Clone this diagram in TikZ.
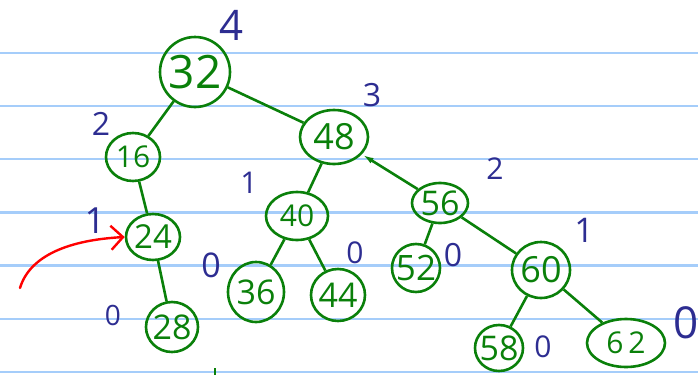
\documentclass[tikz,border=0pt]{standalone}
\usepackage{fontspec}
\setmainfont{Open Sans}
\usetikzlibrary{arrows.meta,shapes.geometric}
\definecolor{ink}{RGB}{10,128,10}
\definecolor{pen}{RGB}{45,45,145}
\definecolor{rule}{RGB}{165,205,250}
\newcommand\fsz[1]{\fontsize{#1}{#1}\selectfont}
\tikzset{
  ell/.style={draw=ink, line width=2.6pt, ellipse, inner sep=0pt},
  num/.style={text=ink, inner sep=0pt, font=\fsz{#1}},
  lab/.style={text=pen, inner sep=0pt, font=\fsz{#1}},
  edge/.style={draw=ink, line width=2.6pt},
  ruleline/.style={draw=rule, line width=2.5pt}
}
\begin{document}
\begin{tikzpicture}[x=1pt,y=-1pt]
\useasboundingbox (0,0) rectangle (698,375);
% ruled paper
\foreach \yy [count=\i] in {53,106,159,212.5,265.5,319,372}
  {\coordinate (rl\i) at (0,\yy); \coordinate (rr\i) at (698,\yy);
   \draw[ruleline] (rl\i) -- (rr\i);}
% nodes
\node[ell, minimum width=70, minimum height=70] (n32) at (195,72) {};
\node[ell, minimum width=54, minimum height=48] (n16) at (133,157) {};
\node[ell, minimum width=68, minimum height=54] (n48) at (334,137) {};
\node[ell, minimum width=54, minimum height=46] (n24) at (153,237) {};
\node[ell, minimum width=52, minimum height=50] (n28) at (172,327) {};
\node[ell, minimum width=62, minimum height=48] (n40) at (297,216) {};
\node[ell, minimum width=56, minimum height=60] (n36) at (256,292) {};
\node[ell, minimum width=54, minimum height=52] (n44) at (338,295) {};
\node[ell, minimum width=56, minimum height=40] (n56) at (440,203) {};
\node[ell, minimum width=48, minimum height=48] (n52) at (416,268) {};
\node[ell, minimum width=58, minimum height=56] (n60) at (541,270) {};
\node[ell, minimum width=48, minimum height=46] (n58) at (499,348) {};
\node[ell, minimum width=78, minimum height=48] (n62) at (626,343) {};
% numbers
\node[num=46] (t32) at (n32) {32};
\node[num=30] (t16) at (n16) {16};
\node[num=36] (t48) at (n48) {48};
\node[num=33] (t24) at (n24) {24};
\node[num=34] (t28) at (n28) {28};
\node[num=30] (t40) at (n40) {40};
\node[num=34] (t36) at (n36) {36};
\node[num=34] (t44) at (n44) {44};
\node[num=34] (t56) at (n56) {56};
\node[num=35] (t52) at (n52) {52};
\node[num=36] (t60) at (n60) {60};
\node[num=34] (t58) at (n58) {58};
\node[num=30] (t62) at (n62) {6\,2};
% edges
\draw[edge] (n32) -- (n16);
\draw[edge] (n32) -- (n48);
\draw[edge] (n16) -- (n24);
\draw[edge] (n24) -- (n28);
\draw[edge] (n48) -- (n40);
\draw[edge, {Latex[length=12pt,width=6pt]}-] (n48) -- (n56);
\draw[edge] (n40) -- (n36);
\draw[edge] (n40) -- (n44);
\draw[edge] (n56) -- (n52);
\draw[edge] (n56) -- (n60);
\draw[edge] (n60) -- (n58);
\draw[edge] (n60) -- (n62);
% heights
\node[lab=42] (h32) at (232,25) {4};
\node[lab=32] (h16) at (101,124) {2};
\node[lab=32] (h48) at (372,95) {3};
\node[lab=30] (h40) at (249,183) {1};
\node[lab=30] (h56) at (495,169) {2};
\node[lab=36] (h24) at (95,221) {1};
\node[lab=28] (h28) at (113,315) {0};
\node[lab=34] (h36) at (211,265) {0};
\node[lab=30] (h44) at (355,253) {0};
\node[lab=32] (h52) at (453,255) {0};
\node[lab=34] (h60) at (584,230) {1};
\node[lab=30] (h58) at (543,347) {0};
\node[lab=44] (h62) at (686,323) {0};
% red arrow
\coordinate (rs) at (20,288);
\draw[red, line width=2.4pt, line cap=round, -{Straight Barb[length=12pt,width=24pt]}]
  (rs) .. controls (30,255) and (70,240) .. (n24.west);
% stray mark
\coordinate (m1) at (215,368);
\coordinate (m2) at (215,375);
\draw[edge] (m1) -- (m2);
\end{tikzpicture}
\end{document}
